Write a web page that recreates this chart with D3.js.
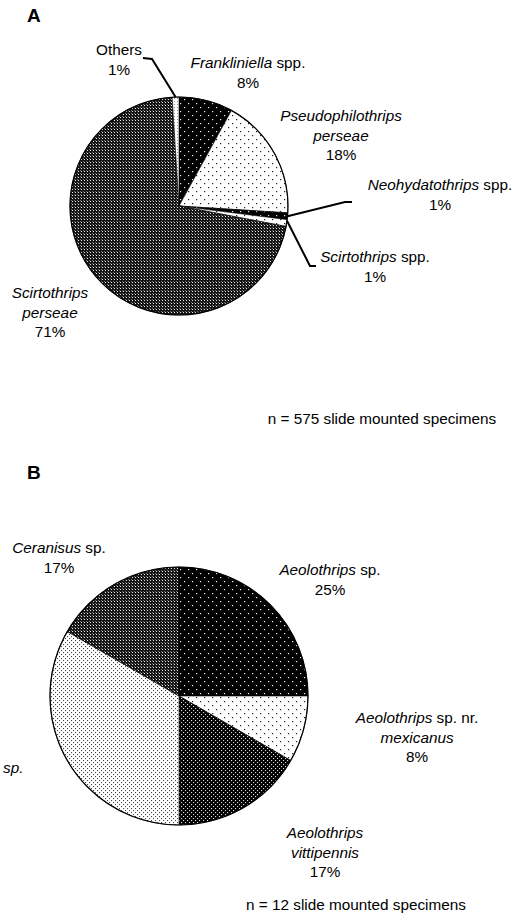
<!DOCTYPE html>
<html lang="en">
<head>
<meta charset="UTF-8">
<title>thrips pie charts</title>
<script src="https://cdn.jsdelivr.net/npm/d3@7"></script>
<style>
  html, body { margin: 0; padding: 0; background: #fff; }
  svg text { font-family: "Liberation Sans", Arial, sans-serif; font-size: 15.3px; fill: #000; }
  .panel { font-weight: bold; font-size: 19px; }
</style>
</head>
<body>
<div id="chart"></div>
<script>
// panel A data (clockwise from 12 o'clock); _x_ = italic
const labelsA = [
  ["_Frankliniella_ spp.", "8%"],
  ["_Pseudophilothrips_", "_perseae_", "18%"],
  ["_Neohydatothrips_ spp.", "1%"],
  ["_Scirtothrips_ spp.", "1%"],
  ["_Scirtothrips_", "_perseae_", "71%"],
  ["Others", "1%"]
];
const valuesA = [8, 18, 1, 1, 71, 1];
const noteA = "n = 575 slide mounted specimens";

// panel B data
const labelsB = [
  ["_Aeolothrips_ sp.", "25%"],
  ["_Aeolothrips_ sp. nr.", "_mexicanus_", "8%"],
  ["_Aeolothrips_", "_vittipennis_", "17%"],
  ["_sp._"],
  ["_Ceranisus_ sp.", "17%"]
];
const valuesB = [3, 1, 2, 4, 2];   // specimen counts (n = 12)
const noteB = "n = 12 slide mounted specimens";

const W = 523, H = 915;
const svg = d3.select("#chart").append("svg").attr("width", W).attr("height", H);
const defs = svg.append("defs");

// fill patterns resembling the halftone screens
function dots(id, size, bg, fg, pts, r) {
  const p = defs.append("pattern").attr("id", id).attr("patternUnits", "userSpaceOnUse")
    .attr("width", size).attr("height", size);
  p.append("rect").attr("width", size).attr("height", size).attr("fill", bg);
  pts.forEach(q => p.append("rect").attr("x", q[0]).attr("y", q[1]).attr("width", r).attr("height", r).attr("fill", fg));
}
dots("blackSparse", 8, "#000", "#eee", [[1, 1], [5, 5]], 1.2);
dots("whiteSparse", 8, "#fff", "#222", [[1, 1], [5, 5]], 1.2);
dots("blackDense", 4, "#000", "#ddd", [[0, 0], [2, 2]], 1.1);
dots("whiteDense", 4, "#fff", "#444", [[0, 0], [2, 2]], 1.1);
(() => {
  const p = defs.append("pattern").attr("id", "hatch").attr("patternUnits", "userSpaceOnUse")
    .attr("width", 3).attr("height", 3);
  p.append("rect").attr("width", 3).attr("height", 3).attr("fill", "#151515");
  p.append("rect").attr("x", 1).attr("y", 1).attr("width", 1).attr("height", 1).attr("fill", "#e8e8e8");
  p.append("rect").attr("x", 0).attr("y", 0).attr("width", 1).attr("height", 1).attr("fill", "#707070");
})();
dots("lightOthers", 3, "#fff", "#999", [[1, 0]], 1);

const fillsA = ["blackSparse", "whiteSparse", "blackSparse", "whiteSparse", "hatch", "lightOthers"];
const fillsB = ["blackSparse", "whiteSparse", "blackDense", "whiteDense", "hatch"];

// label placement: [x, first baseline]; leader: points from label side toward the pie edge
const layoutA = {
  cx: 179, cy: 206, r: 109,
  pos: [[248, 68], [341, 121], [440, 190], [375, 262], [50, 298], [119, 55]],
  leaders: { 2: [[352, 202], [345, 202]], 3: [[316, 266], [310, 266]], 5: [[143, 58], [152, 59]] },
  anchors: ["middle", "middle", "middle", "middle", "middle", "middle"],
  title: "A", titleY: 22, note: noteA, noteX: 382, noteY: 424
};
const layoutB = {
  cx: 179, cy: 696, r: 129,
  pos: [[330, 575], [417, 723], [325, 838], [3, 773], [59, 553]],
  leaders: {},
  anchors: ["middle", "middle", "middle", "start", "middle"],
  title: "B", titleY: 479, note: noteB, noteX: 356, noteY: 910
};

function addLine(text, str) {
  str.split(/(_[^_]+_)/).filter(s => s.length).forEach(s => {
    const it = s.startsWith("_");
    text.append("tspan").text(it ? s.slice(1, -1) : s).attr("font-style", it ? "italic" : "normal");
  });
}

function drawPie(values, labels, fills, L) {
  const g = svg.append("g");
  const pie = d3.pie().sort(null).value(d => d)(values);
  const arc = d3.arc().innerRadius(0).outerRadius(L.r);
  const pg = g.append("g").attr("transform", `translate(${L.cx},${L.cy})`);
  pg.selectAll("path").data(pie).join("path")
    .attr("d", arc)
    .attr("fill", (d, i) => `url(#${fills[i]})`)
    .attr("stroke", "#000").attr("stroke-width", 0.6);
  pg.append("circle").attr("r", L.r).attr("fill", "none").attr("stroke", "#000").attr("stroke-width", 1.2);

  // leader lines to the small slices
  Object.keys(L.leaders).forEach(k => {
    const d = pie[k];
    const a = k == 3 ? d.startAngle + 0.01 : (d.startAngle + d.endAngle) / 2;
    const edge = [L.cx + L.r * Math.sin(a), L.cy - L.r * Math.cos(a)];
    g.append("path")
      .attr("d", d3.line()(L.leaders[k].concat([edge])))
      .attr("fill", "none").attr("stroke", "#000").attr("stroke-width", 2);
  });

  labels.forEach((lines, i) => {
    const [x, y] = L.pos[i];
    lines.forEach((ln, j) => {
      const t = g.append("text").attr("x", x).attr("y", y + j * 19.5).attr("text-anchor", L.anchors[i]);
      addLine(t, ln);
    });
  });

  g.append("text").attr("class", "panel").attr("x", 27).attr("y", L.titleY).text(L.title);
  g.append("text").attr("x", L.noteX).attr("y", L.noteY).attr("text-anchor", "middle").text(L.note);
}

drawPie(valuesA, labelsA, fillsA, layoutA);
drawPie(valuesB, labelsB, fillsB, layoutB);
</script>
</body>
</html>
